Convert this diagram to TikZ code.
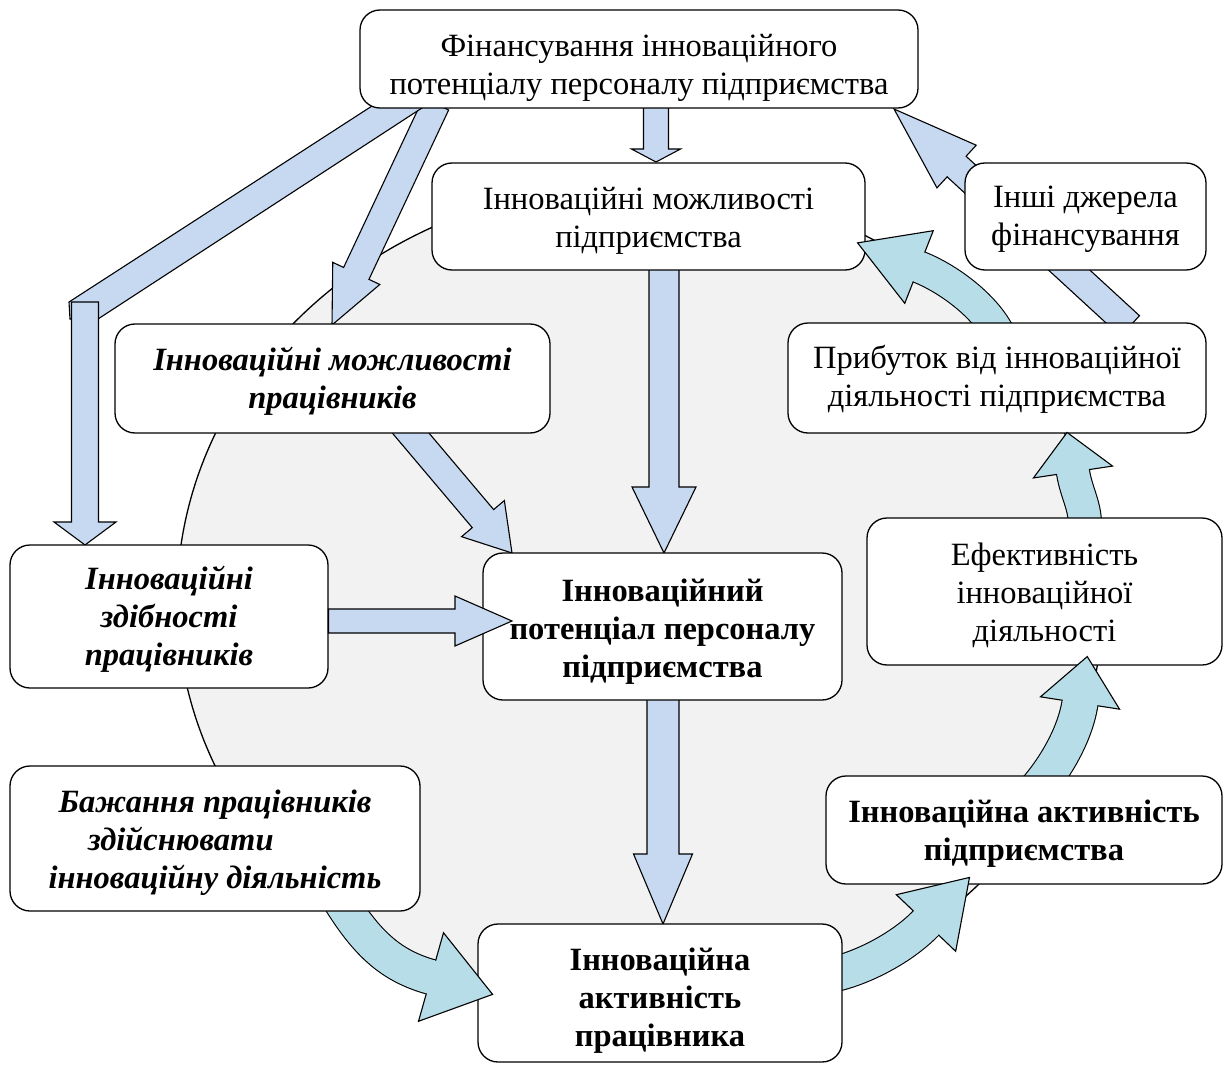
\documentclass[tikz,border=0pt]{standalone}
\usepackage{fontspec}
\setmainfont{Liberation Serif}
\usetikzlibrary{calc}
\definecolor{bluef}{RGB}{198,217,241}
\definecolor{tealf}{RGB}{183,222,232}
\definecolor{greyf}{RGB}{242,242,242}
\tikzset{
  box/.style={draw=black, line width=1.3pt, fill=white, rounded corners=20pt, inner sep=0pt},
  txt/.style={align=center, inner sep=0pt, font=\fontsize{32.5}{38}\selectfont},
  txtb/.style={txt, font=\fontsize{32.5}{38}\selectfont\bfseries},
  txtbi/.style={txt, font=\fontsize{32.5}{38}\selectfont\bfseries\itshape},
  barrowstyle/.style={draw=black, line width=1.1pt, fill=bluef, line join=miter},
  tshaft/.style={draw=black, line width=1.1pt, double=tealf},
  thead/.style={draw=black, line width=1.1pt, line join=miter},
}
% straight block arrow: from, tip, half shaft, half head, head length
\newcommand\barr[5]{%
  \path[barrowstyle] let \p1=(#1), \p2=(#2), \n1={atan2(\y2-\y1,\x2-\x1)}, \n2={veclen(\x2-\x1,\y2-\y1)} in
    [shift={(\p1)}, rotate=\n1] (0,#3) -- ({\n2-#5},#3) -- ({\n2-#5},#4) -- (\n2,0) -- ({\n2-#5},-#4) -- ({\n2-#5},-#3) -- (0,-#3) -- cycle;
}
% curved block arrow shaft: start, c1, c2, end of shaft, half shaft
\newcommand\tshaftdraw[5]{%
  \draw[tshaft, double distance={2*#5pt}] (#1) .. controls (#2) and (#3) .. (#4);
}
% curved block arrow head: c2, end of shaft, half shaft, half head, head length
\newcommand\theaddraw[5]{%
  \fill[tealf] let \p1=(#1), \p2=(#2), \n1={atan2(\y2-\y1,\x2-\x1)} in
    [shift={(\p2)}, rotate=\n1] (-1.5,#3) -- (0,#3) -- (0,#4) -- (#5,0) -- (0,-#4) -- (0,-#3) -- (-1.5,-#3) -- cycle;
  \draw[thead] let \p1=(#1), \p2=(#2), \n1={atan2(\y2-\y1,\x2-\x1)} in
    [shift={(\p2)}, rotate=\n1] (0,#3) -- (0,#4) -- (#5,0) -- (0,-#4) -- (0,-#3);
}
\begin{document}
\begin{tikzpicture}[x=1pt, y=-1pt]
\useasboundingbox (0,0) rectangle (1224,1070);
% background ellipse
\draw[line width=1.3pt, fill=greyf] (640,600) ellipse [x radius=463, y radius=417];

% blue block arrows
\barr{656,105}{656,162}{12.5}{24.5}{13}
\barr{436,104}{332,325}{14}{26}{57}
\path[barrowstyle] (372,106) -- (425,106) -- (98,319) -- (70,319) -- (69,302) -- cycle;
\barr{85,302}{85,545}{13.5}{31}{23}
\barr{403,424}{512,553}{14}{28}{45}
\barr{664,268}{664,553}{15}{32}{66}
\barr{663,698}{663,924}{16}{29.5}{70}
\barr{1130,326}{894,109}{14}{29}{85}

% teal curved arrow shafts
\tshaftdraw{340,900}{368,945}{392,966}{431,977}{17}
\tshaftdraw{835,974}{868,966}{905,945}{926,923}{17}
\tshaftdraw{1036,790}{1055,768}{1075,735}{1080,703}{17.5}
\tshaftdraw{1085,525}{1085,505}{1076,492}{1073,472}{16}
\tshaftdraw{1000,336}{985,305}{947,278}{919,267}{15.5}

% boxes
\node[box, minimum width=558pt, minimum height=98pt] (n1) at (639,59) {};
\node[box, minimum width=433pt, minimum height=107pt] (n2) at (648.5,216.5) {};
\node[box, minimum width=241pt, minimum height=107pt] (n3) at (1085.5,216.5) {};
\node[box, minimum width=435pt, minimum height=109pt] (n4) at (332.5,378.5) {};
\node[box, minimum width=418pt, minimum height=110pt] (n5) at (997,378) {};
\node[box, minimum width=318pt, minimum height=143pt] (n6) at (169,616.5) {};
\node[box, minimum width=359pt, minimum height=147pt] (n7) at (662.5,626.5) {};
\node[box, minimum width=355pt, minimum height=147pt] (n8) at (1044.5,591.5) {};
\node[box, minimum width=396pt, minimum height=108pt] (n9) at (1024,830) {};
\node[box, minimum width=410pt, minimum height=145pt] (n10) at (215,838.5) {};
\node[box, minimum width=364pt, minimum height=138pt] (n11) at (660,993) {};

% arrow drawn over the box edge
\barr{328.5,621}{512,621}{12}{25}{57}

% texts
\node[txt] (t1) at ($(n1.center)+(0,9)$) {Фінансування інноваційного\\потенціалу персоналу підприємства};
\node[txt] (t2) at ($(n2.center)+(0,4.5)$) {Інноваційні можливості\\підприємства};
\node[txt] (t3) at ($(n3.center)+(0,3)$) {Інші джерела\\фінансування};
\node[txtbi] (t4) at ($(n4.center)+(0,2.5)$) {Інноваційні можливості\\працівників};
\node[txt] (t5) at ($(n5.center)+(0,1.5)$) {Прибуток від інноваційної\\діяльності підприємства};
\node[txtbi] (t6) at ($(n6.center)+(0,3)$) {Інноваційні\\здібності\\працівників};
\node[txtb] (t7) at ($(n7.center)+(0,5)$) {Інноваційний\\потенціал персоналу\\підприємства};
\node[txt] (t8) at ($(n8.center)+(0,4)$) {Ефективність\\інноваційної\\діяльності};
\node[txtb] (t9) at ($(n9.center)+(0,4)$) {Інноваційна активність\\підприємства};
\node[txtbi] (t10) at ($(n10.center)+(0,4.5)$) {Бажання працівників\\\makebox[254pt][l]{здійснювати}\\інноваційну діяльність};
\node[txtb] (t11) at ($(n11.center)+(0,8)$) {Інноваційна\\активність\\працівника};

% teal curved arrow heads (drawn over the boxes)
\theaddraw{392,966}{431,977}{17}{46}{64}
\theaddraw{905,945}{926,923}{17}{41}{63}
\theaddraw{1075,735}{1080,703}{17.5}{40}{47}
\theaddraw{1076,492}{1073,472}{16}{40}{40}
\theaddraw{947,278}{919,267}{15.5}{39}{66}
\end{tikzpicture}
\end{document}
